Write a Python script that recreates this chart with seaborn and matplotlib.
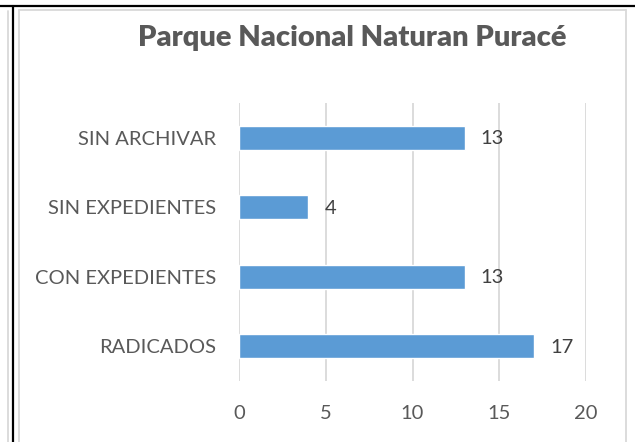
import matplotlib
matplotlib.use("Agg")
import pandas as pd
import seaborn as sns
import matplotlib.pyplot as plt
from matplotlib.lines import Line2D

categorias = ["SIN ARCHIVAR", "SIN EXPEDIENTES", "CON EXPEDIENTES", "RADICADOS"]
valores = [13, 4, 13, 17]
titulo = "Parque Nacional Naturan Puracé"

tabela = pd.DataFrame({"categoria": categorias, "valor": valores})

sns.set_style("white")
plt.rcParams["font.family"] = ["Lato", "DejaVu Sans"]
cinza = "#595959"

W, H = 635, 442
fig = plt.figure(figsize=(W / 100, H / 100), dpi=100)
ax = fig.add_axes([239 / W, 1 - 381 / H, (586 - 239) / W, (381 - 103) / H])

sns.barplot(data=tabela, x="valor", y="categoria", orient="h", color="#5B9BD5",
            saturation=1, width=0.35, ax=ax)

ax.set_xlim(0, 20)
ax.set_ylim(3.5, -0.5)
ax.set_xticks([0, 5, 10, 15, 20])
ax.grid(axis="x", color="#D9D9D9", linewidth=1.3)
ax.set_axisbelow(True)
for s in ax.spines.values():
    s.set_visible(False)
ax.set_xlabel("")
ax.set_ylabel("")
ax.tick_params(axis="both", length=0, labelsize=14.5, labelcolor=cinza)
ax.tick_params(axis="y", pad=16.5)
ax.tick_params(axis="x", pad=17)

for i, v in enumerate(valores):
    ax.annotate(str(v), (v, i), xytext=(16, -1), textcoords="offset pixels",
                va="center", ha="left", fontsize=14.5, color="#404040")

fig.text(352 / W, 1 - 38 / H, titulo, ha="center", va="center",
         fontsize=21, fontweight="heavy", color=cinza)

# moldura do grafico e da tabela
def linha(x0, y0, x1, y1, cor, lw):
    fig.add_artist(Line2D([x0 / W, x1 / W], [1 - y0 / H, 1 - y1 / H], color=cor, linewidth=lw,
                          transform=fig.transFigure))

linha(19, 10, 626, 10, "#D9D9D9", 1.3)
linha(19, 10, 19, H, "#D9D9D9", 1.3)
linha(626, 10, 626, H, "#D9D9D9", 1.3)
linha(8, 11, 8, H, "#D9D9D9", 1.3)
linha(0, 6, 635, 6, "black", 1.6)
linha(13, 6, 13, H, "black", 1.6)

fig.savefig("out.png", dpi=100)
